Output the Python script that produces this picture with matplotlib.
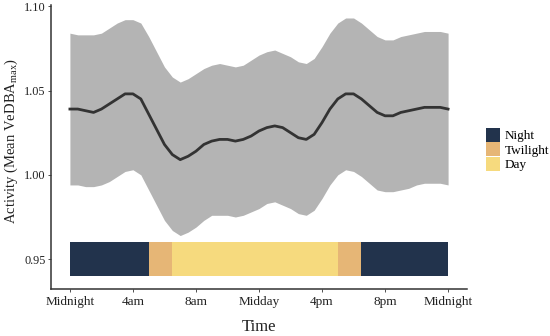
import numpy as np
import matplotlib
matplotlib.use("Agg")
import matplotlib.pyplot as plt
from matplotlib.patches import Patch

plt.rcParams['font.family'] = ['Liberation Serif', 'DejaVu Serif']
plt.rcParams['mathtext.fontset'] = 'custom'
plt.rcParams['mathtext.rm'] = 'Liberation Serif'

# hour of day (half-hour steps) and smoothed activity
hours = [0.0, 0.5, 1.0, 1.5, 2.0, 2.5, 3.0, 3.5, 4.0, 4.5, 5.0, 5.5, 6.0, 6.5,
         7.0, 7.5, 8.0, 8.5, 9.0, 9.5, 10.0, 10.5, 11.0, 11.5, 12.0, 12.5,
         13.0, 13.5, 14.0, 14.5, 15.0, 15.5, 16.0, 16.5, 17.0, 17.5, 18.0,
         18.5, 19.0, 19.5, 20.0, 20.5, 21.0, 21.5, 22.0, 22.5, 23.0, 23.5, 24.0]
mean_act = [1.039, 1.039, 1.038, 1.037, 1.039, 1.042, 1.045, 1.048, 1.048,
            1.045, 1.036, 1.027, 1.018, 1.012, 1.009, 1.011, 1.014, 1.018,
            1.020, 1.021, 1.021, 1.020, 1.021, 1.023, 1.026, 1.028, 1.029,
            1.028, 1.025, 1.022, 1.021, 1.024, 1.031, 1.039, 1.045, 1.048,
            1.048, 1.045, 1.041, 1.037, 1.035, 1.035, 1.037, 1.038, 1.039,
            1.040, 1.040, 1.040, 1.039]
upper_act = [1.084, 1.083, 1.083, 1.083, 1.084, 1.087, 1.090, 1.092, 1.092,
             1.090, 1.082, 1.073, 1.064, 1.058, 1.055, 1.057, 1.060, 1.063,
             1.065, 1.066, 1.065, 1.064, 1.065, 1.068, 1.071, 1.073, 1.074,
             1.072, 1.070, 1.067, 1.066, 1.069, 1.076, 1.084, 1.090, 1.093,
             1.093, 1.090, 1.086, 1.082, 1.080, 1.080, 1.082, 1.083, 1.084,
             1.085, 1.085, 1.085, 1.084]
lower_act = [0.994, 0.994, 0.993, 0.993, 0.994, 0.996, 0.999, 1.002, 1.003,
             1.000, 0.991, 0.982, 0.973, 0.967, 0.964, 0.966, 0.969, 0.973,
             0.976, 0.976, 0.976, 0.975, 0.976, 0.978, 0.980, 0.983, 0.984,
             0.982, 0.980, 0.977, 0.976, 0.979, 0.986, 0.994, 1.000, 1.003,
             1.002, 0.999, 0.995, 0.991, 0.990, 0.990, 0.991, 0.992, 0.994,
             0.995, 0.995, 0.995, 0.994]

# light phases along the bottom bar
phase_names = ['Night', 'Twilight', 'Day', 'Twilight', 'Night']
phase_start = [0, 5, 6.5, 17, 18.5]
phase_end = [5, 6.5, 17, 18.5, 24]
phase_colors = {'Night': '#22334c', 'Twilight': '#e6b676', 'Day': '#f6da7e'}

tick_hours = [0, 4, 8, 12, 16, 20, 24]
tick_labels = ['Midnight', '4am', '8am', 'Midday', '4pm', '8pm', 'Midnight']
y_ticks = [0.95, 1.00, 1.05, 1.10]

fig = plt.figure(figsize=(5.5, 3.36), dpi=100)
ax = fig.add_axes([51/550, 47/336, 416/550, 284/336])

ax.fill_between(hours, lower_act, upper_act, color='#b4b4b4', linewidth=0)
ax.plot(hours, mean_act, color='#333333', linewidth=2.0,
        solid_joinstyle='round')

for name, s, e in zip(phase_names, phase_start, phase_end):
    ax.barh(0.95, e - s, left=s, height=0.02, color=phase_colors[name], linewidth=0)

ax.set_xlim(-1.2, 25.2)
ax.set_ylim(0.9323, 1.1007)
ax.set_xticks(tick_hours)
ax.set_xticklabels(tick_labels)
ax.set_yticks(y_ticks)
ax.set_yticklabels(['%.2f' % v for v in y_ticks])
ax.tick_params(length=2, width=0.6, colors='#333333', pad=3)
ax.tick_params(axis='x', labelsize=9.5)
ax.tick_params(axis='y', labelsize=8.8, pad=2)
for lab in ax.get_xticklabels() + ax.get_yticklabels():
    lab.set_color('#222222')

for side in ['top', 'right']:
    ax.spines[side].set_visible(False)
for side in ['left', 'bottom']:
    ax.spines[side].set_color('#333333')
    ax.spines[side].set_linewidth(1.1)

ax.set_xlabel('Time', fontsize=12, labelpad=8, color='#222222')
ax.set_ylabel(r'Activity (Mean VeDBA$_{\mathrm{max}}$)', fontsize=10.5,
              color='#222222')
ax.yaxis.set_label_coords(-0.074, 0.52)

handles = [Patch(facecolor=phase_colors[n], edgecolor='none', label=n)
           for n in ['Night', 'Twilight', 'Day']]
fig.legend(handles=handles, loc='center left', bbox_to_anchor=(486/550, 0.555),
           frameon=False, fontsize=9.5, handlelength=1.05, handleheight=1.25,
           handletextpad=0.35, labelspacing=0.0, borderpad=0,
           borderaxespad=0)

fig.savefig('out.png', dpi=100)
